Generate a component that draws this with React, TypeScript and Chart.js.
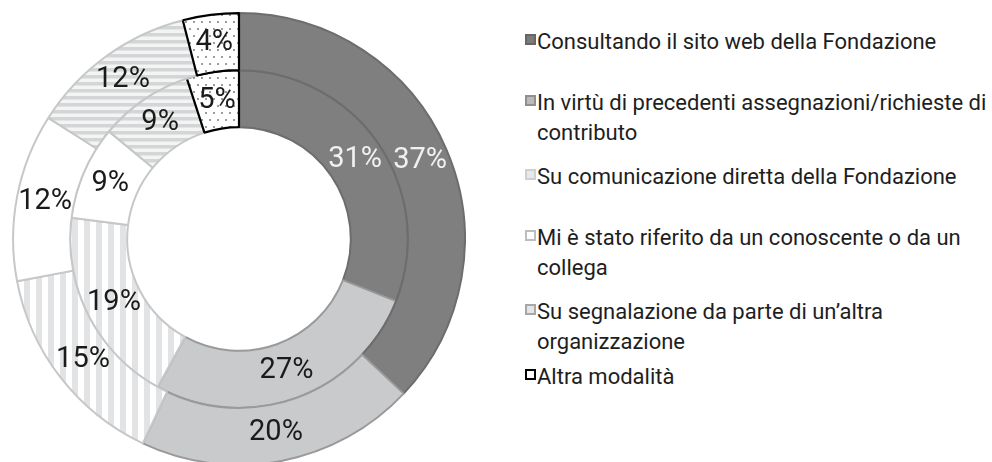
import React, { useEffect, useRef } from "react";
import { Chart, registerables } from "chart.js";

Chart.register(...registerables);

// ---------- data ----------
const categories = [
  "Consultando il sito web della Fondazione",
  "In virtù di precedenti assegnazioni/richieste di contributo",
  "Su comunicazione diretta della Fondazione",
  "Mi è stato riferito da un conoscente o da un collega",
  "Su segnalazione da parte di un’altra organizzazione",
  "Altra modalità",
];
// outer ring
const outerValues = [37, 20, 15, 12, 12, 4];
// inner ring
const innerValues = [31, 27, 19, 9, 9, 5];

// legend text split into displayed lines
const legendLines: string[][] = [
  ["Consultando il sito web della Fondazione"],
  ["In virtù di precedenti assegnazioni/richieste di", "contributo"],
  ["Su comunicazione diretta della Fondazione"],
  ["Mi è stato riferito da un conoscente o da un", "collega"],
  ["Su segnalazione da parte di un’altra", "organizzazione"],
  ["Altra modalità"],
];

// ---------- styling ----------
const LEGEND_CENTERS = [42, 103, 177, 238, 312, 377];
const LINE_H = 30;
const FONT = "Roboto, 'DejaVu Sans', sans-serif";

const borderColors = ["#6d6d6f", "#9a9a9c", "#c6c7c8", "#c6c7c8", "#c6c7c8", "#000000"];
const borderWidths = [2, 2, 2, 2, 2, 2.2];
const legendSwatch = [
  { fill: "#7b7b7c", border: "#666667", bw: 2 },
  { fill: "#b9babb", border: "#8f8f90", bw: 2 },
  { fill: "#e7e8e9", border: "#cfd0d1", bw: 2 },
  { fill: "#ffffff", border: "#bdbdbe", bw: 2 },
  { fill: "#e4e5e6", border: "#a6a7a8", bw: 2 },
  { fill: "#ffffff", border: "#000000", bw: 2.5 },
];

function makePattern(kind: string): CanvasPattern | string {
  const c = document.createElement("canvas");
  const g = c.getContext("2d");
  if (!g) return "#eee";
  if (kind === "v") {
    c.width = 12;
    c.height = 12;
    g.fillStyle = "#ffffff";
    g.fillRect(0, 0, 12, 12);
    g.fillStyle = "#e2e3e4";
    g.fillRect(0, 0, 6, 12);
  } else if (kind === "h") {
    c.width = 7;
    c.height = 7;
    g.fillStyle = "#f3f4f4";
    g.fillRect(0, 0, 7, 7);
    g.fillStyle = "#d4d5d6";
    g.fillRect(0, 0, 7, 3.5);
  } else {
    c.width = 8;
    c.height = 14;
    g.fillStyle = "#ffffff";
    g.fillRect(0, 0, 8, 14);
    g.fillStyle = "#9c9c9d";
    g.fillRect(1, 2, 2, 2);
    g.fillRect(5, 9, 2, 2);
  }
  return g.createPattern(c, "repeat") || "#eee";
}

const pctLabels = {
  id: "pctLabels",
  afterDatasetsDraw(chart: any) {
    const ctx = chart.ctx;
    ctx.save();
    ctx.font = `29px ${FONT}`;
    ctx.textAlign = "center";
    ctx.textBaseline = "middle";
    chart.data.datasets.forEach((ds: any, di: number) => {
      const meta = chart.getDatasetMeta(di);
      meta.data.forEach((arc: any, i: number) => {
        const p = arc.tooltipPosition(false);
        ctx.fillStyle = i === 0 ? "#f1f1f1" : "#1b1b1b";
        ctx.fillText(`${ds.data[i]}%`, p.x, p.y);
      });
    });
    ctx.restore();
  },
};

export default function App() {
  const ref = useRef<HTMLCanvasElement | null>(null);

  useEffect(() => {
    if (!ref.current) return;
    const fills = ["#7f7f80", "#c9cacb", makePattern("v"), "#ffffff", makePattern("h"), makePattern("d")];
    const chart = new Chart(ref.current, {
      type: "doughnut",
      data: {
        labels: categories,
        datasets: [
          {
            data: outerValues,
            backgroundColor: fills as any,
            borderColor: borderColors,
            borderWidth: borderWidths,
          },
          {
            data: innerValues,
            backgroundColor: fills as any,
            borderColor: borderColors,
            borderWidth: borderWidths,
          },
        ],
      },
      options: {
        responsive: true,
        maintainAspectRatio: false,
        animation: false,
        cutout: "49.5%",
        layout: { padding: 0 },
        plugins: {
          legend: { display: false },
          tooltip: { enabled: false },
        },
      },
      plugins: [pctLabels],
    });
    return () => chart.destroy();
  }, []);

  return (
    <div
      style={{
        position: "fixed",
        left: 0,
        top: 0,
        width: 992,
        height: 462,
        overflow: "hidden",
        background: "#ffffff",
        fontFamily: FONT,
      }}
    >
      <div style={{ position: "absolute", left: 12, top: 12, width: 454, height: 454 }}>
        <canvas ref={ref} />
      </div>
      {legendLines.map((lines, i) => {
        const c = LEGEND_CENTERS[i];
        const sw = legendSwatch[i];
        return (
          <div key={i}>
            <div
              style={{
                position: "absolute",
                left: 525,
                top: c - 8,
                width: 11,
                height: 11,
                boxSizing: "border-box",
                background: sw.fill,
                border: `${sw.bw}px solid ${sw.border}`,
              }}
            />
            <div
              style={{
                position: "absolute",
                left: 537,
                top: c - LINE_H / 2,
                fontSize: 22,
                lineHeight: `${LINE_H}px`,
                color: "#1e1e1e",
                whiteSpace: "nowrap",
              }}
            >
              {lines.map((l, k) => (
                <div key={k}>{l}</div>
              ))}
            </div>
          </div>
        );
      })}
    </div>
  );
}
